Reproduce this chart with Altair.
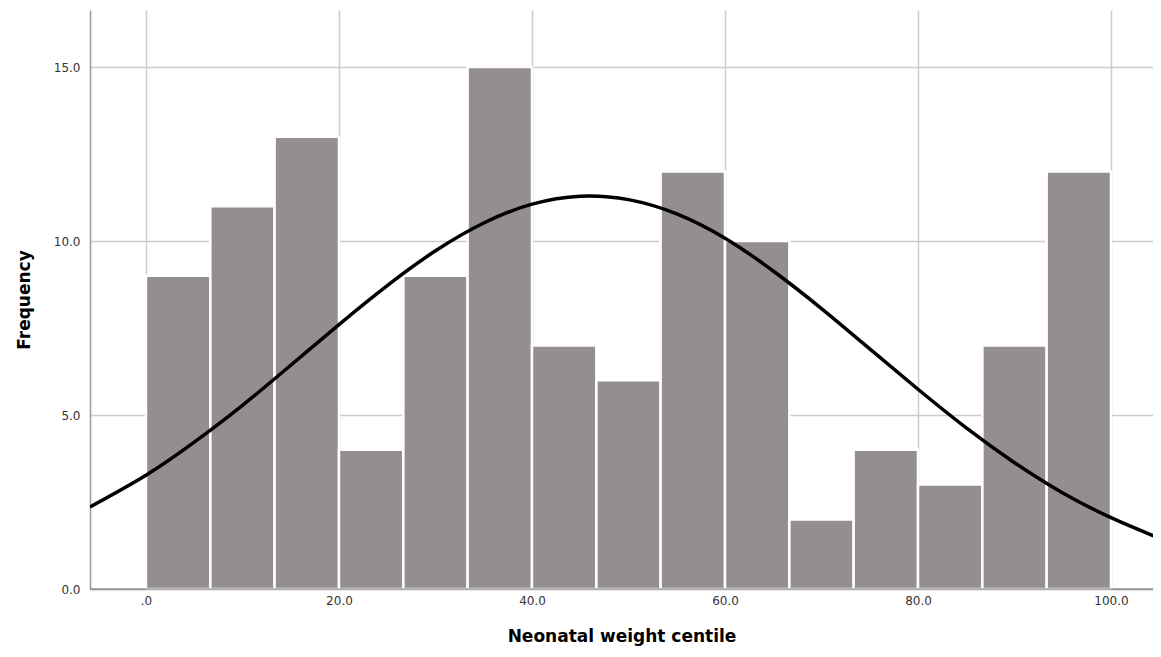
import altair as alt
import pandas as pd

# Histogram bins (Neonatal weight centile), 15 equal bins from 0 to 100
bin_start = [0.0, 6.67, 13.33, 20.0, 26.67, 33.33, 40.0, 46.67, 53.33, 60.0, 66.67, 73.33, 80.0, 86.67, 93.33]
bin_end = [6.67, 13.33, 20.0, 26.67, 33.33, 40.0, 46.67, 53.33, 60.0, 66.67, 73.33, 80.0, 86.67, 93.33, 100.0]
frequency = [9, 11, 13, 4, 9, 15, 7, 6, 12, 10, 2, 4, 3, 7, 12]

# Fitted normal curve
curve_x = [-5.8, 0, 5, 10, 15, 20, 25, 30, 35, 40, 45, 50, 55, 60, 65, 70, 75, 80, 85, 90, 95, 100, 104.4]
curve_y = [2.36, 3.27, 4.22, 5.28, 6.43, 7.6, 8.72, 9.72, 10.52, 11.06, 11.29, 11.19, 10.78, 10.08,
           9.14, 8.06, 6.9, 5.74, 4.63, 3.63, 2.76, 2.05, 1.53]

x_ticks = [0, 20, 40, 60, 80, 100]
y_ticks = [0, 5, 10, 15]

bars_df = pd.DataFrame({"start": bin_start, "end": bin_end, "freq": frequency,
                        "base": [0] * len(frequency)})
curve_df = pd.DataFrame({"x": curve_x, "y": curve_y})
baseline_df = pd.DataFrame({"y": [0]})

FONT = "DejaVu Sans"

x_scale = alt.Scale(domain=[-5.8, 104.35], nice=False, zero=False)
y_scale = alt.Scale(domain=[0, 16.64], nice=False)

x_axis = alt.Axis(
    values=x_ticks,
    labelExpr="datum.value == 0 ? '.0' : format(datum.value, '.1f')",
    title="Neonatal weight centile",
    ticks=False,
    labelPadding=6,
    titlePadding=22,
    grid=True,
)
y_axis = alt.Axis(
    values=y_ticks,
    format=".1f",
    title="Frequency",
    ticks=False,
    labelPadding=10,
    titlePadding=20,
    grid=True,
)

bars = alt.Chart(bars_df).mark_rect(
    color="#948f8e", stroke="#ffffff", strokeWidth=2.5, strokeOpacity=1
).encode(
    x=alt.X("start:Q", scale=x_scale, axis=x_axis),
    x2="end:Q",
    y=alt.Y("freq:Q", scale=y_scale, axis=y_axis),
    y2="base:Q",
)

baseline = alt.Chart(baseline_df).mark_rule(
    color="#999999", strokeWidth=1.5
).encode(
    y=alt.Y("y:Q", scale=y_scale),
)

curve = alt.Chart(curve_df).mark_line(
    color="#000000", strokeWidth=3.5, interpolate="natural", clip=True
).encode(
    x=alt.X("x:Q", scale=x_scale),
    y=alt.Y("y:Q", scale=y_scale),
)

chart = alt.layer(bars, baseline, curve).properties(
    width=1063,
    height=579,
    autosize=alt.AutoSizeParams(type="none"),
    padding={"left": 82, "top": 2, "right": 0, "bottom": 60},
).configure_view(
    stroke=None
).configure_axis(
    labelFont=FONT,
    labelFontSize=12,
    labelColor="#333333",
    titleFont=FONT,
    titleFontWeight="bold",
    titleColor="#000000",
    titleFontSize=17,
    gridColor="#cccccc",
    gridWidth=1.5,
    domainColor="#999999",
    domainWidth=1.5,
)

chart.save("out.html", embed_options={"renderer": "svg", "actions": False})
